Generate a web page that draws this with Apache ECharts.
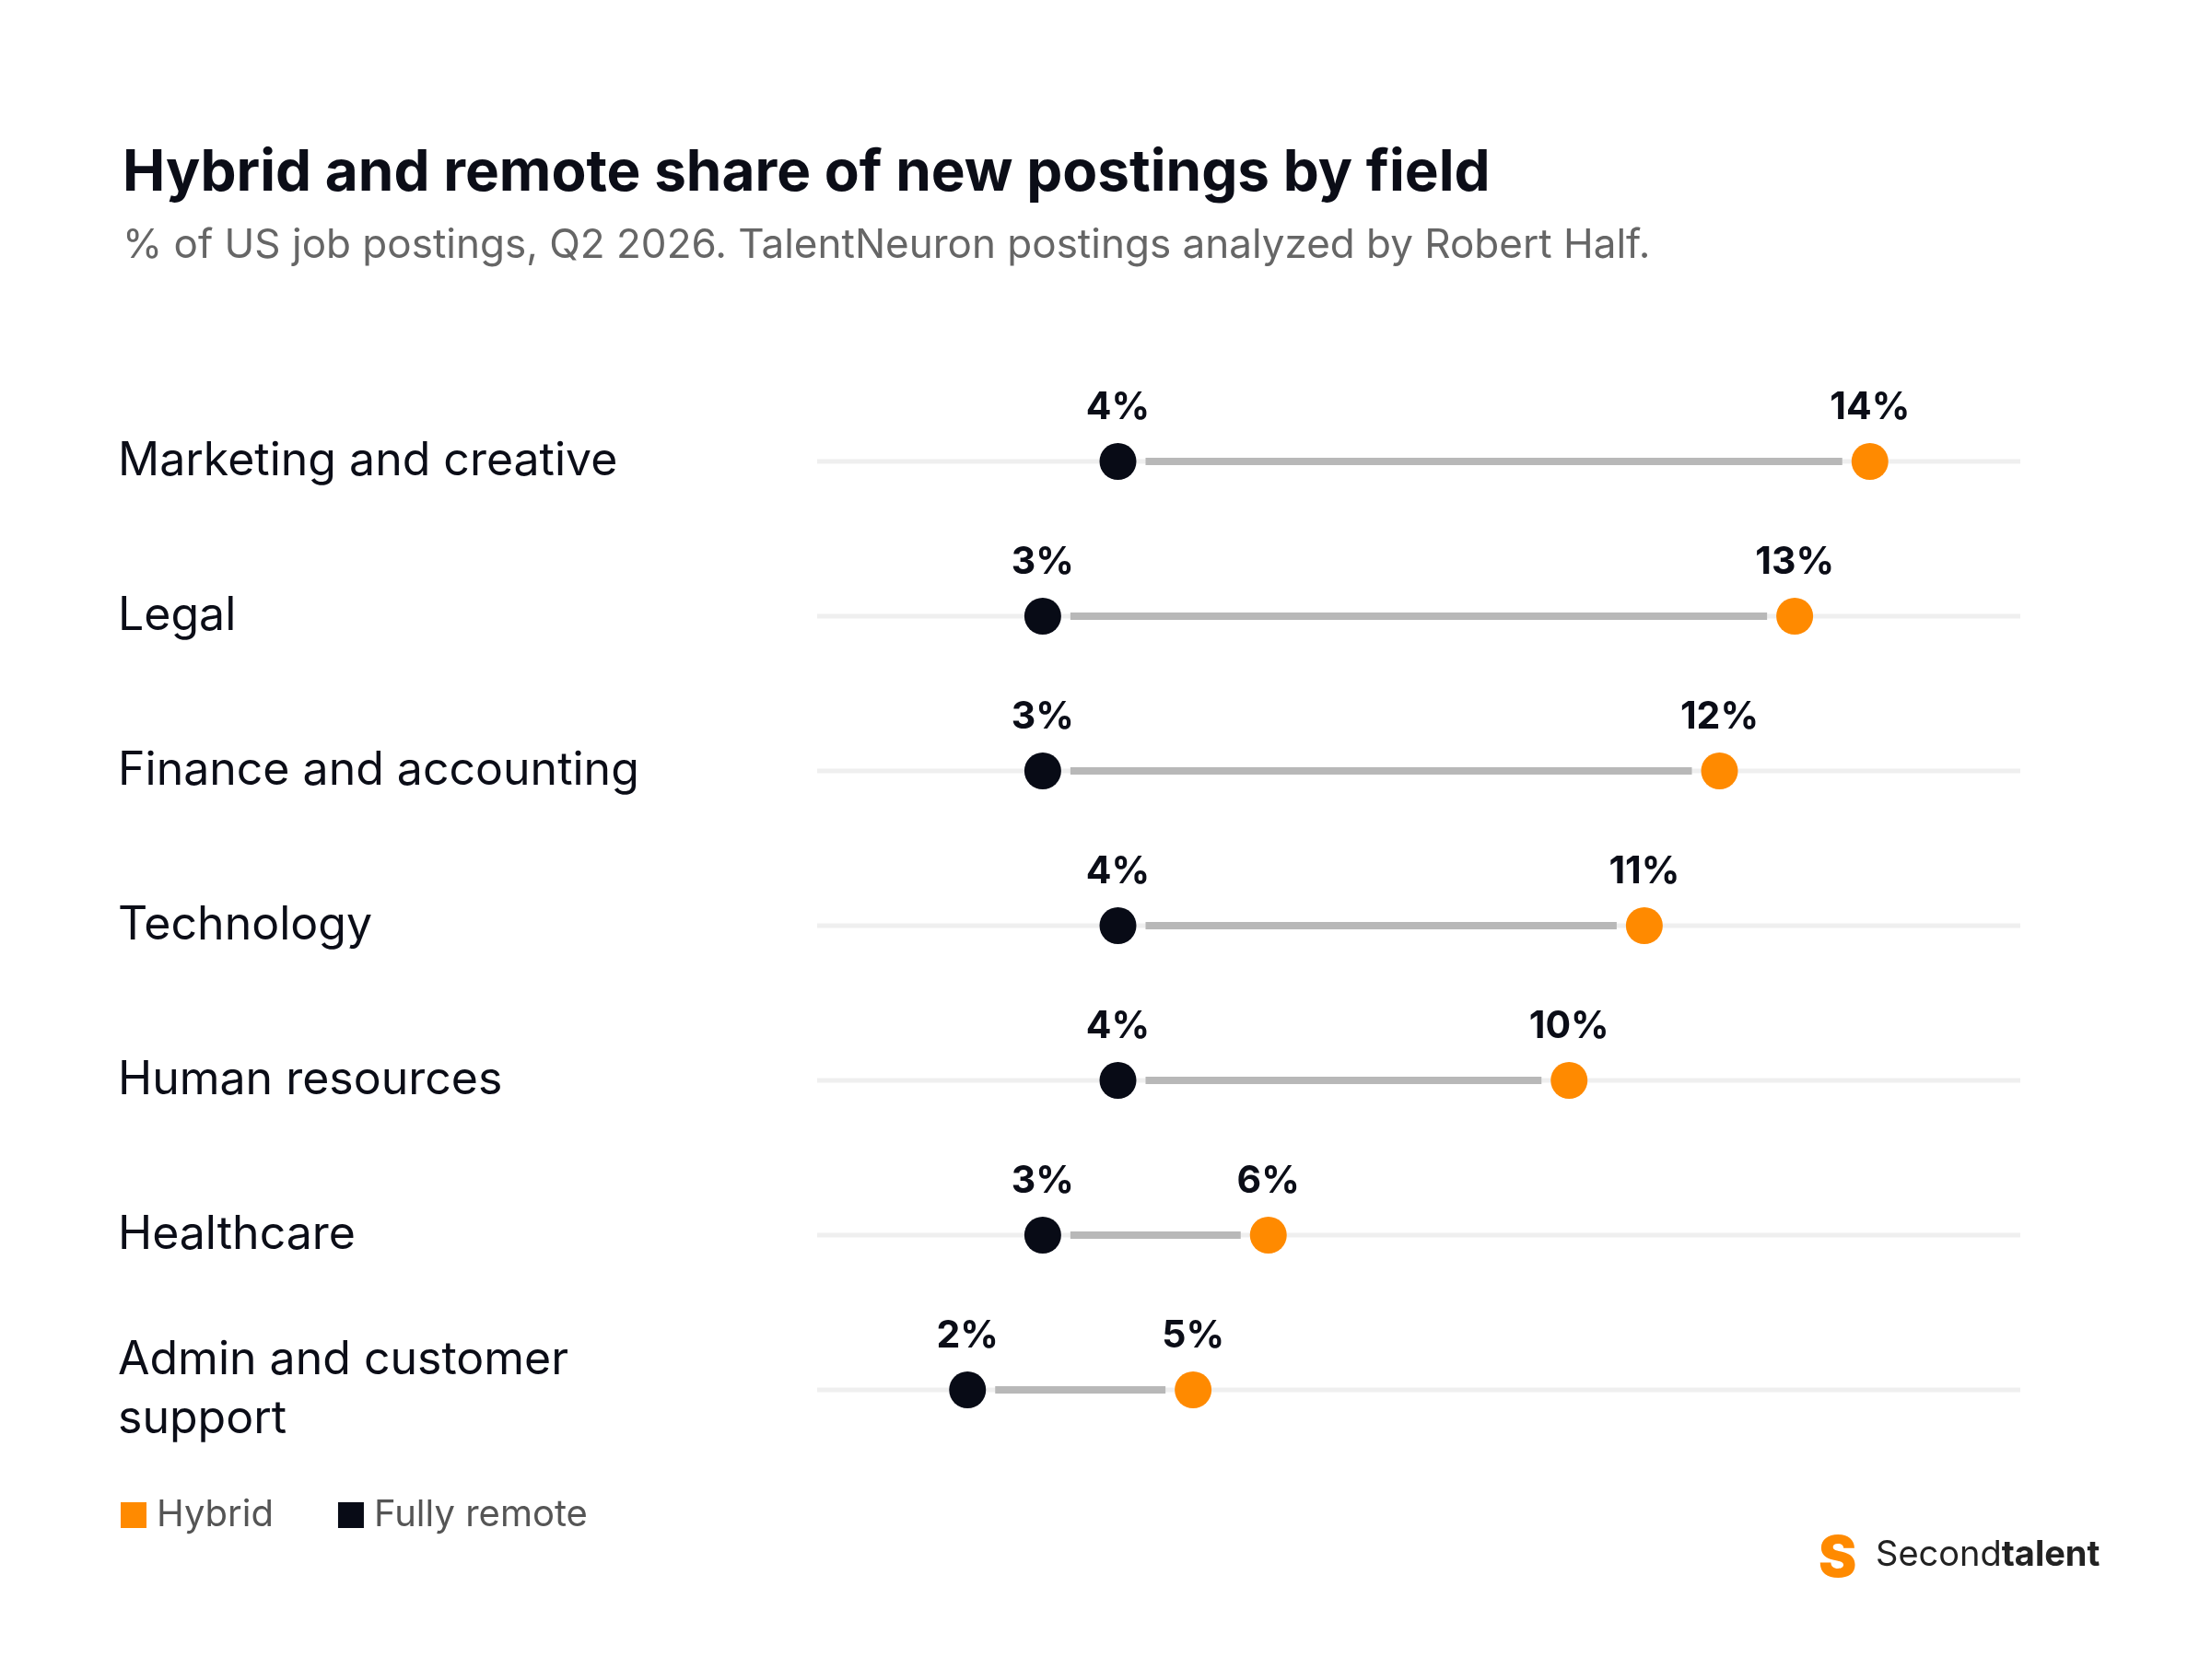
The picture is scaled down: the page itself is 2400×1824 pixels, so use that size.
<!DOCTYPE html>
<html><head><meta charset="utf-8">
<script src="https://cdn.jsdelivr.net/npm/echarts@6/dist/echarts.min.js"></script>
<style>html,body{margin:0;padding:0;background:#fff}#c{width:2400px;height:1824px}</style>
</head><body><div id="c"></div>
<script>
const categories = ["Marketing and creative","Legal","Finance and accounting","Technology","Human resources","Healthcare","Admin and customer\nsupport"];
const hybrid = [14,13,12,11,10,6,5];
const remote = [4,3,3,4,4,3,2];
const xMax = 16;
const F = "Inter, 'Noto Sans', sans-serif";
const chart = echarts.init(document.getElementById('c'));
const lbl = {show:true,position:'top',distance:18,formatter:p=>p.value[0]+'%',fontFamily:F,fontSize:41,fontWeight:700,color:'#0b0d17'};
chart.setOption({
  backgroundColor:'#fff',
  animation:false,
  title:[
    {text:'Hybrid and remote share of new postings by field',left:128,top:152,textStyle:{fontFamily:F,fontSize:62,fontWeight:700,color:'#0b0d17'}},
    {text:'% of US job postings, Q2 2026. TalentNeuron postings analyzed by Robert Half.',left:128,top:240,textStyle:{fontFamily:F,fontSize:44,fontWeight:400,color:'#666'}}
  ],
  legend:{left:126,top:1620,itemWidth:28,itemHeight:28,itemGap:70,icon:'rect',
    textStyle:{fontFamily:F,fontSize:40,color:'#555',padding:[0,0,0,6]},
    data:['Hybrid','Fully remote']},
  grid:{left:887,width:1306,top:417,height:1176},
  xAxis:{type:'value',min:0,max:xMax,show:false},
  yAxis:{type:'category',data:categories,inverse:true,
    axisLine:{show:false},axisTick:{show:false},splitLine:{show:false},
    axisLabel:{align:'left',margin:759,fontFamily:F,fontSize:50,color:'#0b0d17',lineHeight:64}},
  graphic:[
    {type:'text',left:1974,top:1662,style:{text:'S',fontFamily:F,fontSize:62,fontWeight:900,fill:'#ff8a00'}},
    {type:'text',left:2036,top:1670,style:{text:'{a|Second}{b|talent}',rich:{a:{fontFamily:F,fontSize:38,fill:'#222'},b:{fontFamily:F,fontSize:38,fontWeight:700,fill:'#222'}}}}
  ],
  series:[
    {type:'custom',name:'bg',silent:true,z:1,
      data:categories.map((c,i)=>[i,remote[i],hybrid[i]]),
      renderItem:function(params,api){
        const i=api.value(0);
        const a=api.coord([0,i]), b=api.coord([xMax,i]);
        const r=api.coord([api.value(1),i]), h=api.coord([api.value(2),i]);
        return {type:'group',children:[
          {type:'line',shape:{x1:a[0],y1:a[1],x2:b[0],y2:b[1]},style:{stroke:'#efefef',lineWidth:5}},
          {type:'line',shape:{x1:r[0]+30,y1:r[1],x2:h[0]-30,y2:h[1]},style:{stroke:'#b8b8b8',lineWidth:8}}
        ]};
      }},
    {type:'scatter',name:'Hybrid',z:3,symbolSize:40,itemStyle:{color:'#ff8a00',opacity:1},
      data:hybrid.map((v,i)=>[v,i]),label:lbl},
    {type:'scatter',name:'Fully remote',z:3,symbolSize:40,itemStyle:{color:'#080b16',opacity:1},
      data:remote.map((v,i)=>[v,i]),label:lbl}
  ]
});
</script></body></html>
